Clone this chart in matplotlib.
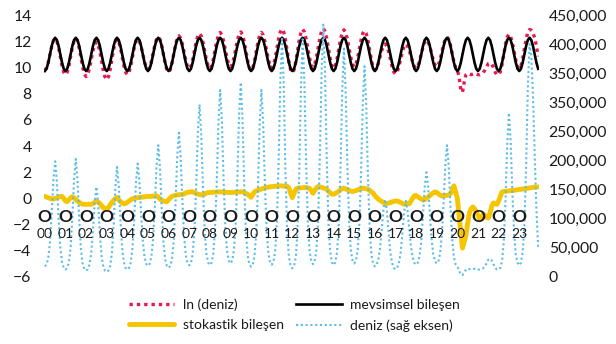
import numpy as np
import matplotlib.pyplot as plt

plt.rcParams['font.family'] = ['Lato', 'DejaVu Sans']

# yil etiketleri (her yilin Ocak ayi)
years = ['00', '01', '02', '03', '04', '05', '06', '07', '08', '09', '10', '11',
         '12', '13', '14', '15', '16', '17', '18', '19', '20', '21', '22', '23']

# mevsimsel bilesen: Ocak..Aralik
seasonal_month = [9.73, 9.90, 10.37, 11.00, 11.64, 12.10, 12.27, 12.10, 11.64, 11.00, 10.37, 9.90]

# ln(deniz), aylik, yil yil
ln_deniz_rows = [
    [9.80, 9.97, 10.40, 11.00, 11.60, 12.03, 12.20, 12.01, 11.51, 10.83, 10.14, 9.64],
    [9.45, 9.64, 10.14, 10.84, 11.53, 12.03, 12.22, 12.02, 11.49, 10.76, 10.03, 9.50],
    [9.30, 9.49, 9.96, 10.63, 11.29, 11.76, 11.95, 11.75, 11.23, 10.51, 9.79, 9.27],
    [9.07, 9.29, 9.84, 10.61, 11.38, 11.93, 12.15, 11.96, 11.48, 10.80, 10.13, 9.64],
    [9.45, 9.64, 10.13, 10.82, 11.50, 11.99, 12.18, 12.02, 11.60, 11.02, 10.43, 10.01],
    [9.85, 10.02, 10.47, 11.09, 11.71, 12.16, 12.33, 12.14, 11.66, 10.99, 10.32, 9.84],
    [9.65, 9.84, 10.34, 11.04, 11.73, 12.23, 12.42, 12.24, 11.79, 11.16, 10.53, 10.08],
    [9.90, 10.09, 10.58, 11.25, 11.93, 12.41, 12.60, 12.41, 11.93, 11.26, 10.59, 10.11],
    [9.92, 10.11, 10.61, 11.30, 11.99, 12.49, 12.68, 12.50, 12.02, 11.37, 10.71, 10.23],
    [10.05, 10.24, 10.72, 11.39, 12.05, 12.53, 12.72, 12.51, 11.98, 11.25, 10.51, 9.98],
    [9.77, 9.97, 10.50, 11.23, 11.95, 12.48, 12.68, 12.49, 12.00, 11.32, 10.63, 10.14],
    [9.95, 10.16, 10.70, 11.44, 12.19, 12.72, 12.93, 12.70, 12.10, 11.27, 10.43, 9.83],
    [9.60, 9.83, 10.43, 11.26, 12.09, 12.69, 12.92, 12.72, 12.19, 11.46, 10.73, 10.20],
    [10.00, 10.21, 10.75, 11.49, 12.24, 12.77, 12.98, 12.77, 12.22, 11.45, 10.69, 10.13],
    [9.92, 10.13, 10.66, 11.40, 12.14, 12.67, 12.88, 12.68, 12.17, 11.47, 10.76, 10.25],
    [10.05, 10.24, 10.74, 11.43, 12.11, 12.61, 12.80, 12.59, 12.05, 11.30, 10.55, 10.01],
    [9.80, 9.94, 10.30, 10.80, 11.30, 11.66, 11.80, 11.64, 11.23, 10.65, 10.08, 9.66],
    [9.50, 9.66, 10.07, 10.64, 11.21, 11.62, 11.78, 11.65, 11.32, 10.87, 10.41, 10.08],
    [9.95, 10.10, 10.49, 11.03, 11.56, 11.95, 12.10, 11.96, 11.59, 11.08, 10.56, 10.19],
    [10.05, 10.21, 10.62, 11.19, 11.76, 12.17, 12.33, 12.15, 11.70, 11.07, 10.43, 9.98],
    [9.80, 9.30, 8.30, 8.10, 8.90, 9.45, 9.55, 9.50, 9.45, 9.50, 9.55, 9.50],
    [9.45, 9.45, 9.50, 9.60, 9.80, 10.05, 10.30, 10.35, 10.25, 10.00, 9.65, 9.45],
    [9.45, 9.67, 10.23, 11.00, 11.78, 12.33, 12.55, 12.36, 11.89, 11.23, 10.56, 10.09],
    [9.90, 10.11, 10.65, 11.40, 12.15, 12.69, 12.90, 12.85, 12.65, 12.25, 11.65, 10.85],
]

# stokastik bilesen, aylik, yil yil
stochastic_rows = [
    [0.15, 0.10, 0.05, 0.00, -0.03, -0.05, 0.00, 0.05, 0.10, 0.14, 0.15, 0.00],
    [-0.20, -0.25, -0.10, 0.05, 0.12, 0.05, -0.10, -0.20, -0.30, -0.40, -0.45, -0.45],
    [-0.45, -0.45, -0.45, -0.45, -0.40, -0.30, -0.22, -0.26, -0.40, -0.55, -0.70, -0.80],
    [-0.83, -0.70, -0.50, -0.30, -0.15, -0.02, 0.06, -0.10, -0.25, -0.35, -0.42, -0.38],
    [-0.30, -0.20, -0.10, -0.03, 0.00, 0.03, 0.05, 0.07, 0.09, 0.10, 0.12, 0.14],
    [0.15, 0.15, 0.16, 0.17, 0.19, 0.20, 0.10, -0.05, -0.15, -0.20, -0.23, -0.26],
    [-0.10, 0.05, 0.15, 0.20, 0.24, 0.27, 0.28, 0.29, 0.30, 0.35, 0.42, 0.46],
    [0.48, 0.50, 0.50, 0.45, 0.38, 0.32, 0.30, 0.28, 0.27, 0.33, 0.40, 0.45],
    [0.45, 0.46, 0.47, 0.48, 0.49, 0.50, 0.50, 0.49, 0.48, 0.47, 0.46, 0.46],
    [0.45, 0.45, 0.46, 0.47, 0.48, 0.49, 0.50, 0.50, 0.45, 0.38, 0.30, 0.20],
    [0.08, 0.30, 0.50, 0.58, 0.62, 0.67, 0.72, 0.76, 0.80, 0.84, 0.86, 0.88],
    [0.90, 0.91, 0.93, 0.94, 0.95, 0.96, 0.95, 0.94, 0.93, 0.92, 0.80, 0.40],
    [0.06, 0.40, 0.70, 0.78, 0.80, 0.81, 0.82, 0.83, 0.83, 0.80, 0.76, 0.60],
    [0.40, 0.60, 0.80, 0.90, 0.88, 0.84, 0.80, 0.75, 0.70, 0.55, 0.42, 0.32],
    [0.32, 0.38, 0.45, 0.55, 0.65, 0.75, 0.78, 0.72, 0.66, 0.60, 0.56, 0.52],
    [0.56, 0.60, 0.65, 0.70, 0.74, 0.78, 0.76, 0.73, 0.70, 0.60, 0.50, 0.40],
    [0.20, 0.08, -0.06, -0.15, -0.25, -0.32, -0.38, -0.40, -0.36, -0.32, -0.27, -0.23],
    [-0.20, -0.20, -0.25, -0.32, -0.38, -0.44, -0.44, -0.42, -0.41, -0.20, 0.00, 0.20],
    [0.22, 0.12, 0.04, -0.05, -0.13, -0.10, 0.00, 0.10, 0.22, 0.32, 0.42, 0.50],
    [0.45, 0.35, 0.25, 0.19, 0.20, 0.22, 0.24, 0.26, 0.35, 0.65, 0.96, 0.50],
    [0.00, -1.30, -2.60, -3.80, -3.30, -2.80, -1.90, -1.10, -0.80, -0.65, -0.80, -1.00],
    [-1.30, -1.60, -1.55, -1.20, -1.30, -1.45, -1.50, -1.10, -0.60, -0.35, -0.40, -0.45],
    [-0.20, 0.15, 0.50, 0.52, 0.54, 0.56, 0.58, 0.59, 0.60, 0.62, 0.64, 0.66],
    [0.68, 0.70, 0.72, 0.74, 0.76, 0.78, 0.80, 0.82, 0.84, 0.86, 0.87, 0.88],
]

right_ticks = [0, 50000, 100000, 150000, 200000, 250000, 300000, 350000, 400000, 450000]
right_labels = ['0', '50,000', '100,000', '150,000', '200,000', '250,000',
                '350,000', '350,000', '400,000', '450,000']

ln_deniz = np.array(ln_deniz_rows).ravel()
stochastic = np.array(stochastic_rows).ravel()
seasonal = np.tile(seasonal_month, len(years))
deniz = np.exp(ln_deniz)
x = np.arange(len(ln_deniz))

text_col = '#1a1a1a'

fig = plt.figure(figsize=(6.16, 3.44), dpi=100)
ax = fig.add_axes([0.0714, 0.195, 0.8036, 0.761])
ax2 = ax.twinx()

l_ln, = ax.plot(x, ln_deniz, color='#e8194f', lw=2.4, linestyle=(0, (1, 1.2)))
l_mev, = ax.plot(x, seasonal, color='black', lw=1.9)
l_sto, = ax.plot(x, stochastic, color='#f6c500', lw=3.5, solid_capstyle='round')
l_den, = ax2.plot(x, deniz, color='#5bbde6', lw=1.5, linestyle=(0, (1, 1.3)))

ax.set_xlim(-0.5, len(x) - 0.5)
ax.set_ylim(-6, 14)
ax.set_yticks(range(-6, 15, 2))
ax2.set_ylim(0, 450000)
ax2.set_yticks(right_ticks)
ax2.set_yticklabels(right_labels)
ax.set_xticks([])

for a in (ax, ax2):
    for s in a.spines.values():
        s.set_visible(False)
    a.tick_params(length=0, labelsize=11.3, colors=text_col)
ax.tick_params(axis='y', pad=9)
ax2.tick_params(axis='y', pad=7)

# Ocak etiketleri (O) ve yil numaralari
for i, yr in enumerate(years):
    ax2.text(i * 12, ax2.get_ylim()[1] * (4.6 / 20), 'O', ha='center', va='center',
             fontsize=12.5, fontweight='bold', color=text_col)
    ax2.text(i * 12, ax2.get_ylim()[1] * (3.25 / 20), yr, ha='center', va='center',
             fontsize=10, color=text_col)

fig.legend([l_ln, l_sto, l_mev, l_den],
           ['ln (deniz)', 'stokastik bileşen', 'mevsimsel bileşen', 'deniz (sağ eksen)'],
           ncol=2, loc='lower center', bbox_to_anchor=(0.478, 0.0), frameon=False,
           fontsize=10, handlelength=3.3, handletextpad=0.6, columnspacing=0.9,
           labelspacing=0.6, labelcolor=text_col)

fig.savefig('out.png', dpi=100)
